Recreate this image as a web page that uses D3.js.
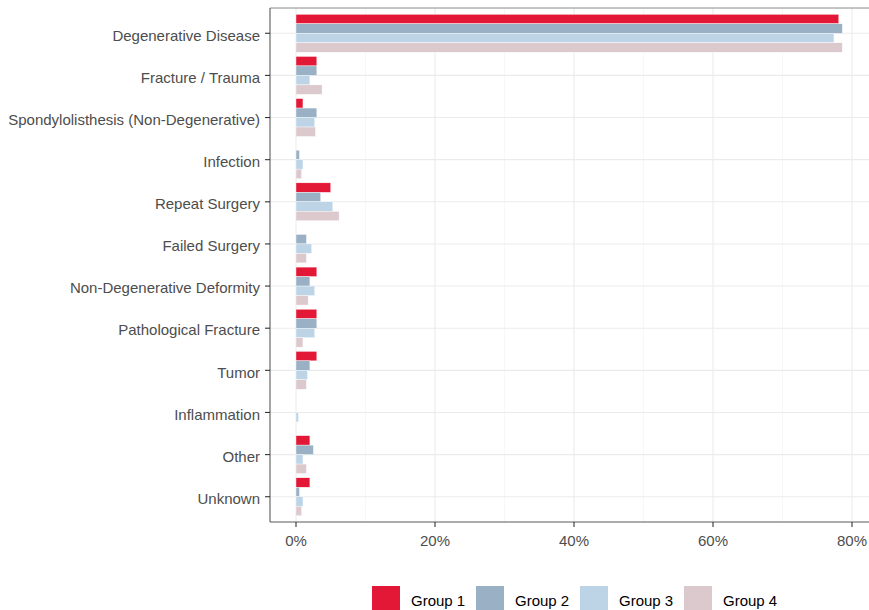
<!DOCTYPE html>
<html>
<head>
<meta charset="utf-8">
<script src="https://cdn.jsdelivr.net/npm/d3@7"></script>
<style>
	body { margin: 0; background: #fff; }
	svg { font-family: "Liberation Sans", Arial, sans-serif; display: block; }
</style>
</head>
<body>
<svg id="chart"></svg>
<script>
// Categories (top to bottom) and series values in %
const categories = [
	"Degenerative Disease", "Fracture / Trauma", "Spondylolisthesis (Non-Degenerative)",
	"Infection", "Repeat Surgery", "Failed Surgery", "Non-Degenerative Deformity",
	"Pathological Fracture", "Tumor", "Inflammation", "Other", "Unknown"
];
const groups = ["Group 1", "Group 2", "Group 3", "Group 4"];
const group1 = [78.1, 3.0, 1.0, 0.0, 5.0, 0.0, 3.0, 3.0, 3.0, 0.0, 2.0, 2.0];
const group2 = [78.6, 3.0, 3.0, 0.5, 3.55, 1.5, 2.0, 3.0, 2.0, 0.0, 2.5, 0.5];
const group3 = [77.4, 2.0, 2.7, 1.0, 5.3, 2.25, 2.7, 2.7, 1.65, 0.35, 1.0, 1.0];
const group4 = [78.6, 3.75, 2.8, 0.8, 6.2, 1.5, 1.75, 1.0, 1.5, 0.0, 1.5, 0.8];
const xTicks = [0, 20, 40, 60, 80];
const xMinor = [10, 30, 50, 70];
const colors = ["#E31837", "#9AB0C4", "#BCD4E6", "#DBC9CE"];

const series = [group1, group2, group3, group4];
const data = [];
categories.forEach((c, i) => {
	groups.forEach((g, j) => data.push({ category: c, group: g, value: series[j][i] }));
});

const width = 869;
const height = 610;
const panel = { left: 270, right: 870, top: 8, bottom: 522 };

const svg = d3.select("#chart")
	.attr("width", width)
	.attr("height", height);

// Scales
const x = d3.scaleLinear().domain([0, 80]).range([296, 852]);
const y = d3.scalePoint()
	.domain(categories)
	.range([panel.top, panel.bottom])
	.padding(0.6);
const step = y.step();
const yInner = d3.scaleBand()
	.domain(groups)
	.range([-0.45 * step, 0.45 * step]);
const color = d3.scaleOrdinal().domain(groups).range(colors);

// Grid
const grid = svg.append("g");
grid.selectAll(".minor")
	.data(xMinor)
	.join("line")
	.attr("x1", (d) => x(d)).attr("x2", (d) => x(d))
	.attr("y1", panel.top).attr("y2", panel.bottom)
	.attr("stroke", "#F2F2F2")
	.attr("stroke-width", 0.6);
grid.selectAll(".majorx")
	.data(xTicks)
	.join("line")
	.attr("x1", (d) => x(d)).attr("x2", (d) => x(d))
	.attr("y1", panel.top).attr("y2", panel.bottom)
	.attr("stroke", "#EBEBEB")
	.attr("stroke-width", 1.1);
grid.selectAll(".majory")
	.data(categories)
	.join("line")
	.attr("x1", panel.left).attr("x2", panel.right)
	.attr("y1", (d) => y(d)).attr("y2", (d) => y(d))
	.attr("stroke", "#EBEBEB")
	.attr("stroke-width", 1.1);

// Bars
svg.append("g")
	.selectAll("rect")
	.data(data.filter((d) => d.value > 0))
	.join("rect")
	.attr("x", x(0))
	.attr("y", (d) => y(d.category) + yInner(d.group))
	.attr("width", (d) => x(d.value) - x(0))
	.attr("height", yInner.bandwidth())
	.attr("fill", (d) => color(d.group))
	.attr("stroke", "#fff")
	.attr("stroke-width", 0.4);

// Panel border (top) and axis lines
svg.append("line")
	.attr("x1", panel.left).attr("x2", panel.right)
	.attr("y1", panel.top).attr("y2", panel.top)
	.attr("stroke", "#7A7A7A").attr("stroke-width", 0.9);
svg.append("line")
	.attr("x1", panel.left).attr("x2", panel.left)
	.attr("y1", panel.top).attr("y2", panel.bottom)
	.attr("stroke", "#5A5A5A").attr("stroke-width", 1.1);
svg.append("line")
	.attr("x1", panel.left).attr("x2", panel.right)
	.attr("y1", panel.bottom).attr("y2", panel.bottom)
	.attr("stroke", "#5A5A5A").attr("stroke-width", 1.1);

// Y axis
const yAxis = svg.append("g").attr("transform", `translate(${panel.left},0)`);
yAxis.selectAll("line")
	.data(categories)
	.join("line")
	.attr("x1", -5).attr("x2", 0)
	.attr("y1", (d) => y(d)).attr("y2", (d) => y(d))
	.attr("stroke", "#333").attr("stroke-width", 1.1);
yAxis.selectAll("text")
	.data(categories)
	.join("text")
	.attr("x", -10)
	.attr("y", (d) => y(d) + 2)
	.attr("dy", "0.35em")
	.attr("text-anchor", "end")
	.style("font-size", "15px")
	.style("fill", "#4D4D4D")
	.text((d) => d);

// X axis
const xAxis = svg.append("g").attr("transform", `translate(0,${panel.bottom})`);
xAxis.selectAll("line")
	.data(xTicks)
	.join("line")
	.attr("x1", (d) => x(d)).attr("x2", (d) => x(d))
	.attr("y1", 0).attr("y2", 5)
	.attr("stroke", "#333").attr("stroke-width", 1.1);
xAxis.selectAll("text")
	.data(xTicks)
	.join("text")
	.attr("x", (d) => x(d))
	.attr("y", 19)
	.attr("dy", "0.35em")
	.attr("text-anchor", "middle")
	.style("font-size", "15px")
	.style("fill", "#4D4D4D")
	.text((d) => d + "%");

// Legend
const legendX = [372, 476, 580, 684];
const legend = svg.append("g")
	.selectAll("g")
	.data(groups)
	.join("g")
	.attr("transform", (d, i) => `translate(${legendX[i]},586)`);
legend.append("rect")
	.attr("width", 28)
	.attr("height", 28)
	.attr("fill", (d) => color(d));
legend.append("text")
	.attr("x", 39)
	.attr("y", 15)
	.attr("dy", "0.35em")
	.style("font-size", "15px")
	.style("fill", "#000")
	.text((d) => d);
</script>
</body>
</html>
